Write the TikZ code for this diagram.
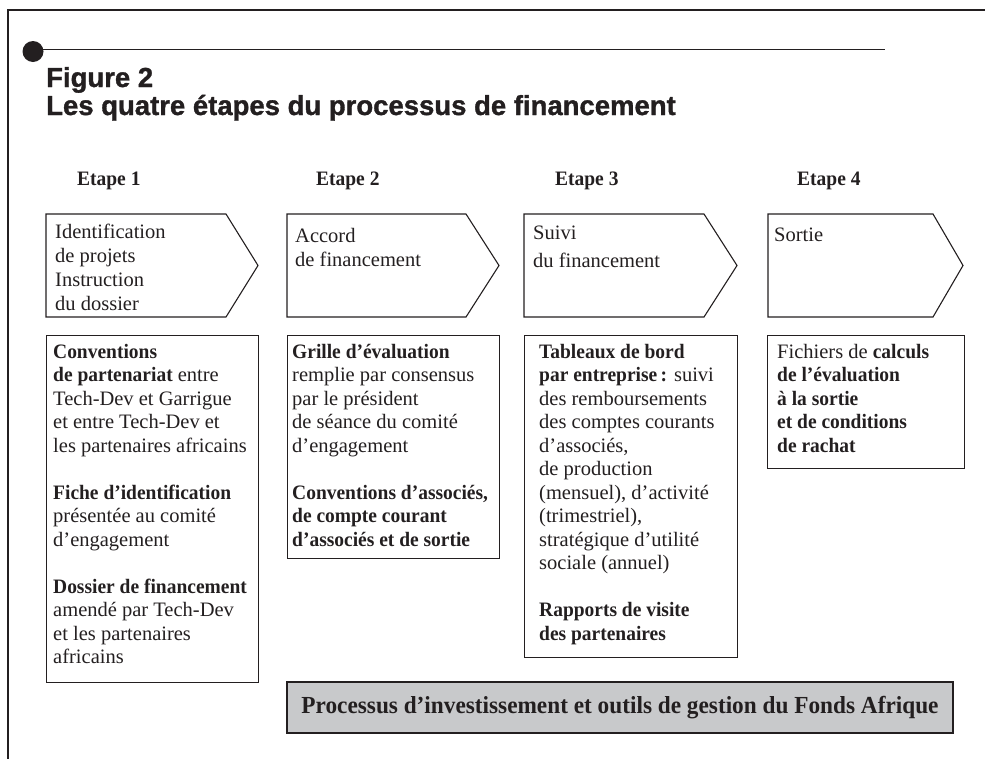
\documentclass[tikz,border=0pt]{standalone}
\usepackage{fontspec}
\setmainfont{Liberation Serif}[BoldFeatures={FakeStretch=0.95}]
\newfontfamily\titlefont[BoldFeatures={FakeBold=1.2}]{Liberation Sans}
\definecolor{ink}{HTML}{231F20}
\definecolor{boxgray}{HTML}{C8C9CB}
\begin{document}
\begin{tikzpicture}[x=1pt,y=-1pt,
  frame/.style={draw=ink, line width=2.5pt, line join=miter},
  chev/.style={draw=ink, line width=1.1pt, line join=miter},
  lbox/.style={draw=ink, line width=1.1pt, inner sep=0pt, anchor=north west},
  body/.style={anchor=north west, inner sep=0pt, align=left, text=ink, font=\fontsize{20.5}{23.5}\selectfont},
  chevtext/.style={anchor=north west, inner sep=0pt, align=left, text=ink, font=\fontsize{20.5}{24}\selectfont},
  etape/.style={anchor=base west, inner sep=0pt, text=ink, font=\fontsize{20.5}{22}\selectfont\bfseries},
  titletext/.style={anchor=base west, inner sep=0pt, text=ink, font=\titlefont\fontsize{27.5}{30}\selectfont\bfseries},
  graylabel/.style={draw=ink, line width=1.3pt, fill=boxgray, inner sep=0pt, text=ink, font=\fontsize{24.5}{26}\selectfont\bfseries}
]
\useasboundingbox (0,0) rectangle (985,758);
% frame
\coordinate (ftr) at (990,10);
\coordinate (ftl) at (8,10);
\coordinate (fbl) at (8,765);
\draw[frame] (ftr) -- (ftl) -- (fbl);
% rule with bullet
\coordinate (r0) at (33,49.5);
\coordinate (r1) at (885,49.5);
\draw[ink, line width=1.3pt] (r0) -- (r1);
\node[circle, fill=ink, inner sep=0pt, minimum size=21pt] (dot) at (33,51.5) {};
% title
\node[titletext] (fig) at (46,87) {Figure 2};
\node[titletext] (ttl) at (46,115) {Les quatre étapes du processus de financement};
% etapes
\node[etape] (e1) at (77,185) {Etape 1};
\node[etape] (e2) at (316,185) {Etape 2};
\node[etape] (e3) at (555,185) {Etape 3};
\node[etape] (e4) at (797,185) {Etape 4};
% chevrons
\draw[chev] (46,214) -- (226,214) -- (258,265.5) -- (226,317) -- (46,317) -- cycle;
\draw[chev] (287,214) -- (466,214) -- (499,265.5) -- (466,317) -- (287,317) -- cycle;
\draw[chev] (524,214) -- (704,214) -- (737,265.5) -- (704,317) -- (524,317) -- cycle;
\draw[chev] (768,214) -- (933,214) -- (963,265.5) -- (933,317) -- (768,317) -- cycle;
\node[chevtext] (c1) at (55,222) {\rule{0pt}{16pt}Identification\\de projets\\Instruction\\du dossier};
\node[chevtext] (c2) at (295,226) {\rule{0pt}{16pt}Accord\\de financement};
\node[chevtext] (c3) at (533,223) {\rule{0pt}{16pt}Suivi\\[4pt]du financement};
\node[chevtext] (c4) at (774,225) {\rule{0pt}{16pt}Sortie};
% lower boxes
\node[lbox, minimum width=212pt, minimum height=347pt] (l1) at (46,335) {};
\node[lbox, minimum width=212pt, minimum height=223pt] (l2) at (287,335) {};
\node[lbox, minimum width=213pt, minimum height=322pt] (l3) at (524,335) {};
\node[lbox, minimum width=197pt, minimum height=133pt] (l4) at (767,335) {};
\node[body] (t1) at (53,342) {\rule{0pt}{16pt}\textbf{Conventions}\\
\textbf{de partenariat} entre\\
Tech-Dev et Garrigue\\
et entre Tech-Dev et\\
les partenaires africains\\[23.5pt]
\textbf{Fiche d’identification}\\
présentée au comité\\
d’engagement\\[23.5pt]
\textbf{Dossier de financement}\\
amendé par Tech-Dev\\
et les partenaires\\
africains};
\node[body] (t2) at (292,342) {\rule{0pt}{16pt}\textbf{Grille d’évaluation}\\
remplie par consensus\\
par le président\\
de séance du comité\\
d’engagement\\[23.5pt]
\textbf{Conventions d’associés,}\\
\textbf{de compte courant}\\
\textbf{d’associés et de sortie}};
\node[body] (t3) at (539,342) {\rule{0pt}{16pt}\textbf{Tableaux de bord}\\
\textbf{par entreprise\,:} suivi\\
des remboursements\\
des comptes courants\\
d’associés,\\
de production\\
(mensuel), d’activité\\
(trimestriel),\\
stratégique d’utilité\\
sociale (annuel)\\[23.5pt]
\textbf{Rapports de visite}\\
\textbf{des partenaires}};
\node[body] (t4) at (777,342) {\rule{0pt}{16pt}Fichiers de \textbf{calculs}\\
\textbf{de l’évaluation}\\
\textbf{à la sortie}\\
\textbf{et de conditions}\\
\textbf{de rachat}};
% gray label
\node[graylabel, minimum width=666pt, minimum height=51pt] (gl) at (620,707.5) {Processus d’investissement et outils de gestion du Fonds Afrique};
\end{tikzpicture}
\end{document}
